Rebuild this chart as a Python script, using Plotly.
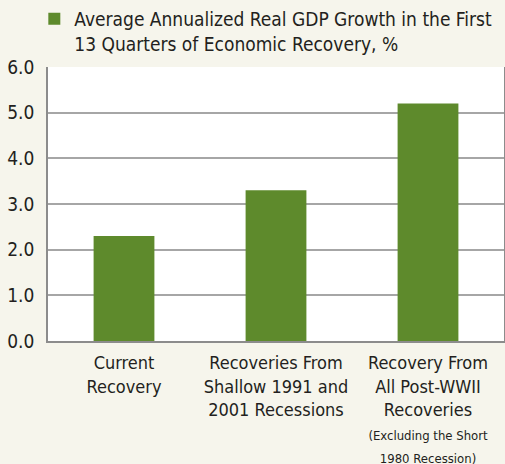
import plotly.graph_objects as go

categories = [
    "Current<br>Recovery",
    "Recoveries From<br>Shallow 1991 and<br>2001 Recessions",
    "Recovery From<br>All Post-WWII<br>Recoveries<br><span style='font-size:13px'>(Excluding the Short<br>1980 Recession)</span>",
]
values = [2.3, 3.3, 5.2]
series_name = "Average Annualized Real GDP Growth in the First<br>13 Quarters of Economic Recovery, %"
tick_vals = [0, 1, 2, 3, 4, 5, 6]
tick_text = ["0.0", "1.0", "2.0", "3.0", "4.0", "5.0", "6.0"]

FONT = "DejaVu Sans Condensed, Liberation Sans Narrow, Roboto Condensed, Roboto"
TXT = "#231f20"
BG = "#f6f5ec"

fig = go.Figure()
fig.add_trace(go.Bar(x=categories, y=values, name=series_name,
                     marker=dict(color="#5e8a2c", line=dict(width=0)),
                     showlegend=True))

fig.update_layout(
    width=505, height=464,
    paper_bgcolor=BG, plot_bgcolor="#ffffff",
    margin=dict(l=48, r=1, t=67, b=123, autoexpand=False),
    bargap=0.6,
    font=dict(family=FONT, color=TXT, size=17),
    legend=dict(x=-0.03, y=1.0, xref="paper", yref="container", xanchor="left", yanchor="top",
                bgcolor="rgba(0,0,0,0)", font=dict(size=19, family=FONT, color=TXT),
                itemwidth=30, valign="top"),
    showlegend=True,
)
fig.update_yaxes(range=[0, 6], tickvals=tick_vals, ticktext=tick_text,
                 showgrid=True, gridcolor="#a6a6a6", gridwidth=1.5,
                 showline=True, linecolor="#8c8c8c", linewidth=1.5, mirror=True,
                 ticks="outside", ticklen=8, tickcolor=BG, automargin=False,
                 tickfont=dict(size=19, family=FONT, color=TXT), zeroline=False)
fig.update_xaxes(showline=True, linecolor="#8c8c8c", linewidth=1.5, automargin=False,
                 ticks="outside", ticklen=5, tickcolor=BG,
                 tickfont=dict(size=18, family=FONT, color=TXT))

fig.write_html("out.html", config={"displayModeBar": False},
               post_script="document.body.style.margin='0';")
